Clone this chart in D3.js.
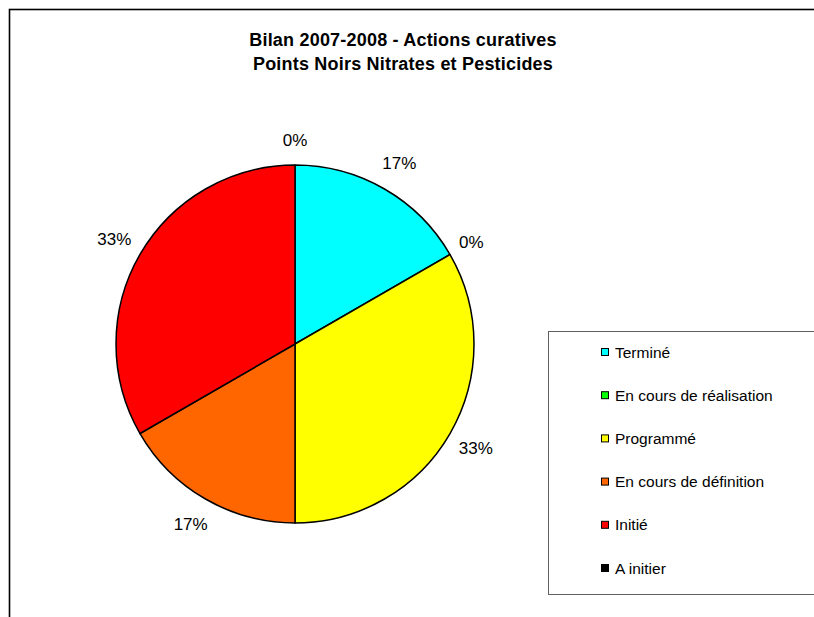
<!DOCTYPE html>
<html><head><meta charset="utf-8">
<script src="https://cdn.jsdelivr.net/npm/d3@7"></script>
<style>body{margin:0;background:#fff}svg{display:block}</style>
</head><body>
<svg id="c" width="814" height="617"></svg>
<script>
const categories = ["Terminé","En cours de réalisation","Programmé","En cours de définition","Initié","A initier"];
const values = [1,0,2,1,2,0];
const colors = ["#00FFFF","#00FF00","#FFFF00","#FF6600","#FF0000","#000000"];
const titleLines = ["Bilan 2007-2008 - Actions curatives","Points Noirs Nitrates et Pesticides"];

const svg = d3.select("#c");
const font = "'Liberation Sans', Arial, sans-serif";

// outer frame
svg.append("rect").attr("x",9.5).attr("y",9.5).attr("width",900).attr("height",700)
  .attr("fill","none").attr("stroke","#000").attr("stroke-width",1.6);

// title
svg.append("g").selectAll("text").data(titleLines).join("text")
  .attr("x",403).attr("y",(d,i)=>46+i*24).attr("text-anchor","middle")
  .attr("font-family",font).attr("font-weight","bold").attr("font-size","18px")
  .attr("letter-spacing","0.2px").attr("fill","#000").text(d=>d);

// pie
const cx=295, cy=344, r=179;
const total = d3.sum(values);
const pie = d3.pie().sort(null).value(d=>d.v);
const data = pie(categories.map((c,i)=>({c, v:values[i], col:colors[i]})));
const arc = d3.arc().innerRadius(0).outerRadius(r);
const g = svg.append("g").attr("transform",`translate(${cx},${cy})`);
g.selectAll("path").data(data.filter(d=>d.data.v>0)).join("path")
  .attr("d",arc).attr("fill",d=>d.data.col).attr("stroke","#000").attr("stroke-width",1.5)
  .attr("stroke-linejoin","round");

// labels
const lbl = g.selectAll("text.l").data(data).join("text").attr("class","l")
  .attr("font-family",font).attr("font-size","17px").attr("fill","#000")
  .attr("text-anchor","middle").attr("dominant-baseline","central")
  .text(d=>Math.round(d.data.v/total*100)+"%");
lbl.each(function(d){
  const w = this.getComputedTextLength();
  const a = (d.startAngle+d.endAngle)/2;
  const R = r + 11 + w*0.55;
  d3.select(this).attr("x", R*Math.sin(a)).attr("y", -R*Math.cos(a));
});

// legend
svg.append("rect").attr("x",548.5).attr("y",331.5).attr("width",300).attr("height",263)
  .attr("fill","#fff").attr("stroke","#606060").attr("stroke-width",1);
const ly = d3.scalePoint().domain(categories).range([352,568]);
const lg = svg.append("g").selectAll("g").data(categories).join("g")
  .attr("transform",d=>`translate(601,${ly(d)})`);
lg.append("rect").attr("x",0.5).attr("y",-3.5).attr("width",7).attr("height",7)
  .attr("fill",(d,i)=>colors[i]).attr("stroke","#000").attr("stroke-width",1);
lg.append("text").attr("x",14).attr("y",0).attr("dominant-baseline","central")
  .attr("font-family",font).attr("font-size","15.5px").attr("fill","#000").text(d=>d);
</script>
</body></html>
